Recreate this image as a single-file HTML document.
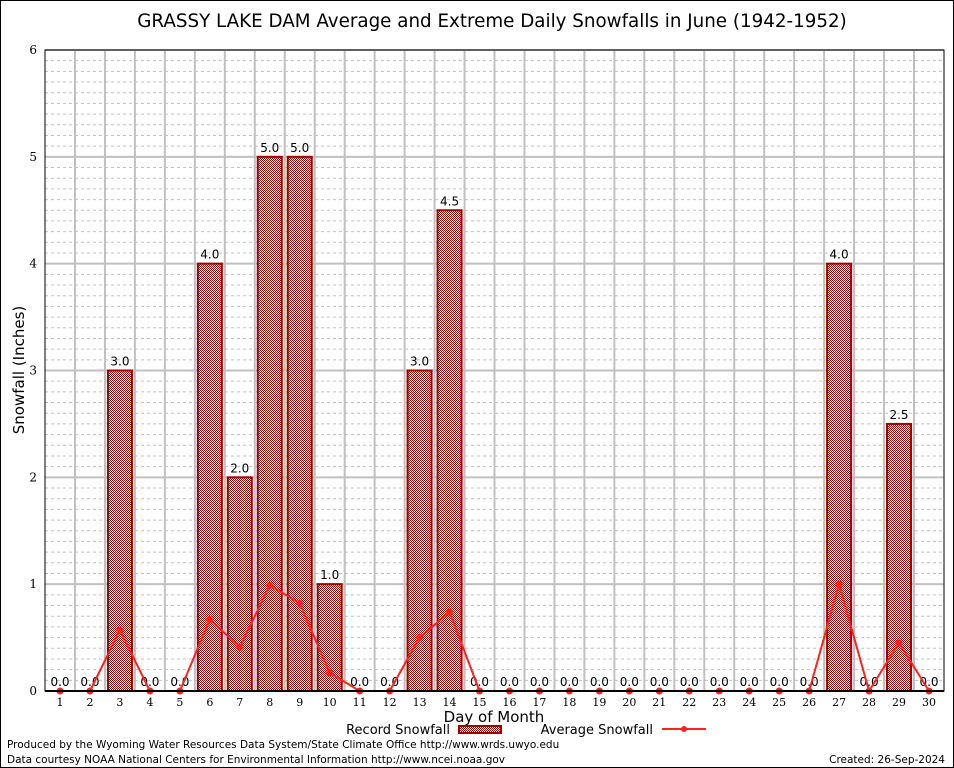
<!DOCTYPE html>
<html><head><meta charset="utf-8"><style>
html,body{margin:0;padding:0;background:#fff}
svg{display:block;font-family:"DejaVu Sans","Liberation Sans",sans-serif}
</style></head><body>
<svg id="chart" width="954" height="768" xmlns="http://www.w3.org/2000/svg">
<defs>
<pattern id="hatch" width="2" height="2" patternUnits="userSpaceOnUse">
<rect width="2" height="2" fill="#fff"/><rect width="1" height="1" fill="#a00000"/><rect x="1" y="1" width="1" height="1" fill="#a00000"/>
</pattern>
</defs>
<rect x="0.5" y="0.5" width="953" height="767" fill="#fff" stroke="#000"/>
<text x="492" y="27" font-size="18.3" text-anchor="middle">GRASSY LAKE DAM Average and Extreme Daily Snowfalls in June (1942-1952)</text>
<g id="grid"></g>
<g id="bars"></g>
<g id="line"></g>
<g id="axes"></g>
<text x="24" y="370" font-size="15" text-anchor="middle" transform="rotate(-90 24 370)">Snowfall (Inches)</text>
<text x="494" y="722" font-size="15" text-anchor="middle">Day of Month</text>
<g>
<text x="450" y="734" font-size="13" text-anchor="end">Record Snowfall</text>
<rect x="459" y="726" width="42" height="7" fill="url(#hatch)" stroke="#a00000" stroke-width="2"/>
<text x="653" y="734" font-size="13" text-anchor="end">Average Snowfall</text>
<line x1="662" y1="729" x2="706" y2="729" stroke="#ff2020" stroke-width="2"/>
<circle cx="684" cy="729" r="3" fill="#ff2020"/>
</g>
<text x="7" y="748" font-size="10.5">Produced by the Wyoming Water Resources Data System/State Climate Office http://www.wrds.uwyo.edu</text>
<text x="7" y="763" font-size="10.5">Data courtesy NOAA National Centers for Environmental Information http://www.ncei.noaa.gov</text>
<text x="945" y="763" font-size="10.5" text-anchor="end">Created:  26-Sep-2024</text>
</svg>
<script>
const days=[1,2,3,4,5,6,7,8,9,10,11,12,13,14,15,16,17,18,19,20,21,22,23,24,25,26,27,28,29,30];
const recordSnow=[0,0,3,0,0,4,2,5,5,1,0,0,3,4.5,0,0,0,0,0,0,0,0,0,0,0,0,4,0,2.5,0];
const avgSnow=[0,0,0.57,0,0,0.67,0.41,0.99,0.82,0.17,0,0,0.5,0.74,0,0,0,0,0,0,0,0,0,0,0,0,1.0,0,0.45,0];
const yTicks=[0,1,2,3,4,5,6];
const NS="http://www.w3.org/2000/svg";
const L=45,R=944,T=50,B=691,YMAX=6;
const xs=d=>60+(d-1)*(929-60)/29;
const ys=v=>B-(v/YMAX)*(B-T);
function mk(tag,attrs,parent,txt){const e=document.createElementNS(NS,tag);for(const k in attrs)e.setAttribute(k,attrs[k]);if(txt!==undefined)e.textContent=txt;parent.appendChild(e);return e;}
const grid=document.getElementById('grid'),bars=document.getElementById('bars'),line=document.getElementById('line'),axes=document.getElementById('axes');
for(let i=1;i<60;i++){const v=i/10;if(i%10===0)continue;
 const g=mk('line',{x1:L,x2:R,y1:ys(v),y2:ys(v),stroke:'#c0c0c0','stroke-dasharray':'3,3','stroke-width':1},grid);
 }
yTicks.forEach(v=>{
 const g=mk('line',{x1:L,x2:R,y1:ys(v),y2:ys(v),stroke:'#c0c0c0','stroke-width':2},grid);
 
 const t=mk('text',{x:L-8,y:ys(v)+4,'font-size':12,'text-anchor':'end','font-family':'DejaVu Serif, Liberation Serif, serif'},axes,String(v));
 
});
days.forEach((d,i)=>{
 if(i>0){const vx=(xs(d)+xs(days[i-1]))/2;
 const g=mk('line',{x1:vx,x2:vx,y1:T,y2:B,stroke:'#c0c0c0','stroke-width':2},grid);
 }
 const v=recordSnow[i];
 if(v>0){const b=mk('rect',{x:xs(d)-12,y:ys(v),width:24,height:B-ys(v),fill:'url(#hatch)',stroke:'#a00000','stroke-width':2},bars);
 }
 const lb=mk('text',{x:xs(d),y:ys(v)-5,'font-size':12,'text-anchor':'middle'},bars,v.toFixed(1));
 
 const tl=mk('text',{x:xs(d),y:B+15,'font-size':11,'text-anchor':'middle','font-family':'DejaVu Serif, Liberation Serif, serif'},axes,String(d));
 
});
const pl=mk('polyline',{points:days.map((d,i)=>xs(d)+','+ys(avgSnow[i])).join(' '),fill:'none',stroke:'#ff2020','stroke-width':2},line);

days.forEach((d,i)=>{const c=mk('circle',{cx:xs(d),cy:ys(avgSnow[i]),r:3.5,fill:'#ff2020'},line);
 });
const fr=mk('rect',{x:L,y:T,width:R-L,height:B-T,fill:'none',stroke:'#000','stroke-width':1},axes);

const xa=mk('line',{x1:L,x2:R,y1:B,y2:B,stroke:'#000','stroke-width':2},axes);

</script>
</body></html>
